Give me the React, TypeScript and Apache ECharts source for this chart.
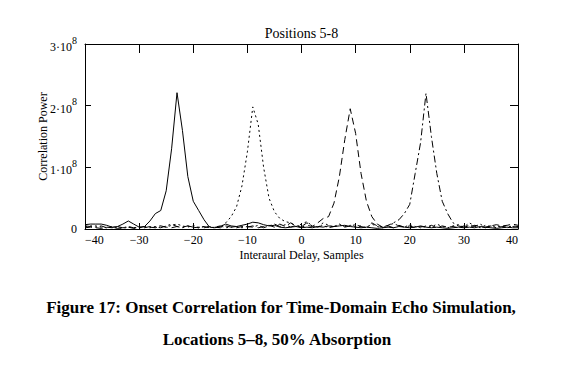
import React, { useEffect, useRef } from 'react';
import * as echarts from 'echarts';

const chartTitle = 'Positions 5-8';
const xAxisName = 'Interaural Delay, Samples';
const yAxisName = 'Correlation Power';
const captionLine1 = 'Figure 17: Onset Correlation for Time-Domain Echo Simulation,';
const captionLine2 = 'Locations 5–8, 50% Absorption';

// x axis: interaural delay in samples
const xMin = -40;
const xMax = 40;
const xStep = 10;
// y axis: correlation power in units of 10^8
const yMin = 0;
const yMax = 3;
const yStep = 1;
const yExponent = '8';

// integer delays -40 .. 40
const delays: number[] = Array.from({ length: 81 }, (_, i) => i - 40);

// Correlation power (x 10^8) for each delay
const location5: number[] = [
  0.07, 0.08, 0.08, 0.08, 0.06, 0.03, 0.04, 0.08, 0.13, 0.08,
  0.03, 0.04, 0.13, 0.25, 0.30, 0.62, 1.30, 2.21, 1.60, 0.85,
  0.45, 0.30, 0.15, 0.03, 0.02, 0.04, 0.08, 0.05, 0.04, 0.06,
  0.08, 0.11, 0.10, 0.07, 0.05, 0.06, 0.03, 0.02, 0.03, 0.04,
  0.02, 0.03, 0.02, 0.04, 0.03, 0.05, 0.04, 0.05, 0.06, 0.04,
  0.03, 0.02, 0.03, 0.02, 0.01, 0.02, 0.03, 0.02, 0.04, 0.03,
  0.02, 0.03, 0.05, 0.03, 0.02, 0.03, 0.02, 0.01, 0.02, 0.03,
  0.02, 0.03, 0.02, 0.04, 0.03, 0.02, 0.01, 0.02, 0.03, 0.02,
  0.02,
];
const location6: number[] = [
  0.04, 0.05, 0.05, 0.03, 0.02, 0.04, 0.02, 0.01, 0.03, 0.02,
  0.02, 0.03, 0.02, 0.04, 0.05, 0.03, 0.06, 0.08, 0.05, 0.03,
  0.06, 0.02, 0.04, 0.03, 0.02, 0.03, 0.10, 0.20, 0.36, 0.70,
  1.25, 1.98, 1.70, 1.00, 0.50, 0.28, 0.17, 0.12, 0.10, 0.04,
  0.08, 0.12, 0.05, 0.03, 0.10, 0.06, 0.03, 0.07, 0.04, 0.06,
  0.03, 0.05, 0.02, 0.08, 0.04, 0.02, 0.06, 0.09, 0.05, 0.03,
  0.07, 0.04, 0.02, 0.05, 0.03, 0.08, 0.04, 0.02, 0.05, 0.07,
  0.03, 0.10, 0.05, 0.02, 0.06, 0.04, 0.03, 0.05, 0.02, 0.04,
  0.03,
];
const location7: number[] = [
  0.02, 0.03, 0.02, 0.01, 0.03, 0.02, 0.04, 0.02, 0.03, 0.01,
  0.02, 0.04, 0.03, 0.02, 0.05, 0.03, 0.02, 0.04, 0.03, 0.05,
  0.02, 0.03, 0.02, 0.04, 0.03, 0.02, 0.05, 0.03, 0.02, 0.04,
  0.03, 0.05, 0.02, 0.04, 0.06, 0.03, 0.08, 0.04, 0.10, 0.05,
  0.03, 0.06, 0.04, 0.10, 0.17, 0.20, 0.42, 0.85, 1.45, 1.95,
  1.55, 0.90, 0.45, 0.20, 0.08, 0.03, 0.05, 0.02, 0.06, 0.03,
  0.05, 0.02, 0.04, 0.03, 0.06, 0.02, 0.05, 0.03, 0.04, 0.02,
  0.05, 0.03, 0.06, 0.04, 0.02, 0.05, 0.07, 0.05, 0.06, 0.08,
  0.06,
];
const location8: number[] = [
  0.05, 0.04, 0.03, 0.05, 0.02, 0.03, 0.01, 0.02, 0.04, 0.02,
  0.03, 0.02, 0.04, 0.03, 0.02, 0.05, 0.08, 0.04, 0.02, 0.05,
  0.03, 0.02, 0.04, 0.02, 0.03, 0.05, 0.02, 0.03, 0.04, 0.02,
  0.04, 0.03, 0.06, 0.02, 0.05, 0.08, 0.04, 0.07, 0.03, 0.06,
  0.04, 0.10, 0.05, 0.03, 0.06, 0.02, 0.04, 0.08, 0.03, 0.05,
  0.07, 0.04, 0.02, 0.10, 0.05, 0.03, 0.06, 0.10, 0.15, 0.25,
  0.40, 0.90, 1.40, 2.20, 1.50, 0.90, 0.45, 0.25, 0.10, 0.05,
  0.03, 0.06, 0.04, 0.08, 0.03, 0.05, 0.02, 0.04, 0.03, 0.05,
  0.04,
];

const seriesNames = ['Location 5', 'Location 6', 'Location 7', 'Location 8'];
const seriesValues = [location5, location6, location7, location8];

const SERIF = "'Liberation Serif', 'Times New Roman', serif";

export default function App() {
  const ref = useRef<HTMLDivElement>(null);

  useEffect(() => {
    if (!ref.current) return;
    const chart = echarts.init(ref.current, null, { renderer: 'svg' });

    const dashes: any[] = ['solid', [2, 3], [7, 4], [7, 3, 2, 3]];

    const fmtX = (v: number) => String(v).replace('-', '\u2212');
    const fmtY = (v: number) => (v === 0 ? '0' : `{m|${v}\u00b710}{s|${yExponent}}`);

    const gridLeft = 85;
    const gridRight = 52;
    const gridTop = 44;
    const gridBottom = 136;
    const plotCx = gridLeft + (570 - gridLeft - gridRight) / 2;

    const baseX = {
      type: 'value',
      min: xMin,
      max: xMax,
      interval: xStep,
      splitLine: { show: false },
      axisLine: { show: true, onZero: false, lineStyle: { color: '#000', width: 1 } },
    };
    const baseY = {
      type: 'value',
      min: yMin,
      max: yMax,
      interval: yStep,
      splitLine: { show: false },
      axisLine: { show: true, onZero: false, lineStyle: { color: '#000', width: 1 } },
    };

    chart.setOption({
      animation: false,
      backgroundColor: '#fff',
      grid: { left: gridLeft, right: gridRight, top: gridTop, bottom: gridBottom },
      xAxis: [
        {
          ...baseX,
          position: 'bottom',
          name: xAxisName,
          nameLocation: 'middle',
          nameGap: 20,
          nameMoveOverlap: false,
          nameTextStyle: { fontFamily: SERIF, fontSize: 12, color: '#000' },
          axisTick: { show: true, inside: true, length: 6, lineStyle: { color: '#000' } },
          axisLabel: {
            show: true,
            margin: 5,
            formatter: fmtX,
            fontFamily: SERIF,
            fontSize: 12,
            color: '#000',
            alignMinLabel: 'left',
            alignMaxLabel: 'right',
          },
        },
        {
          ...baseX,
          position: 'top',
          axisTick: { show: true, inside: true, length: 9, lineStyle: { color: '#000' } },
          axisLabel: { show: false },
        },
      ],
      yAxis: [
        {
          ...baseY,
          position: 'left',
          name: yAxisName,
          nameLocation: 'middle',
          nameGap: 36,
          nameMoveOverlap: false,
          nameTextStyle: { fontFamily: SERIF, fontSize: 12, color: '#000' },
          axisTick: { show: true, inside: true, length: 6, lineStyle: { color: '#000' } },
          axisLabel: {
            show: true,
            margin: 8,
            formatter: fmtY,
            fontFamily: SERIF,
            fontSize: 12,
            color: '#000',
            rich: {
              m: { fontFamily: SERIF, fontSize: 12, color: '#000', lineHeight: 18, verticalAlign: 'bottom' },
              s: { fontFamily: SERIF, fontSize: 10, color: '#000', lineHeight: 18, verticalAlign: 'top' },
            },
          },
        },
        {
          ...baseY,
          position: 'right',
          axisTick: { show: true, inside: true, length: 8, lineStyle: { color: '#000' } },
          axisLabel: { show: false },
        },
      ],
      graphic: [
        {
          type: 'text',
          x: plotCx,
          y: 33,
          style: {
            text: chartTitle,
            fill: '#000',
            font: `14px ${SERIF}`,
            textAlign: 'center',
            textVerticalAlign: 'middle',
          },
        },
        {
          type: 'text',
          x: 281,
          y: 307,
          style: {
            text: captionLine1,
            fill: '#000',
            font: `bold 17px ${SERIF}`,
            textAlign: 'center',
            textVerticalAlign: 'middle',
          },
        },
        {
          type: 'text',
          x: 277,
          y: 339,
          style: {
            text: captionLine2,
            fill: '#000',
            font: `bold 17px ${SERIF}`,
            textAlign: 'center',
            textVerticalAlign: 'middle',
          },
        },
      ],
      series: seriesValues.map((vals, i) => ({
        name: seriesNames[i],
        type: 'line',
        xAxisIndex: 0,
        yAxisIndex: 0,
        showSymbol: false,
        symbol: 'none',
        silent: true,
        lineStyle: { color: '#000', width: 1, type: dashes[i] },
        data: delays.map((d, j) => [d, vals[j]]),
      })),
    });

    return () => chart.dispose();
  }, []);

  return (
    <div
      ref={ref}
      style={{ position: 'fixed', left: 0, top: 0, width: 570, height: 365, background: '#fff' }}
    />
  );
}
